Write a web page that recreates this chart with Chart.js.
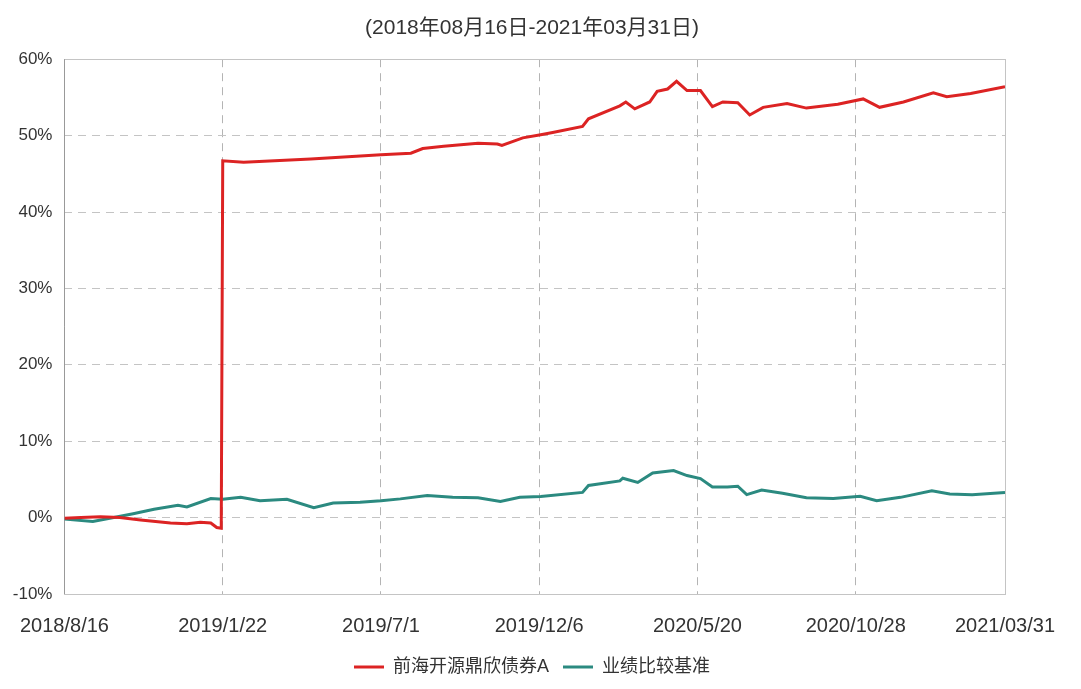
<!DOCTYPE html>
<html>
<head>
<meta charset="utf-8">
<script src="https://cdn.jsdelivr.net/npm/chart.js@4.4.1/dist/chart.umd.min.js"></script>
<style>
  html, body { margin: 0; padding: 0; background: #fff; }
  #wrap { width: 1081px; height: 689px; position: relative; }
</style>
</head>
<body>
<div id="wrap"><canvas id="c" width="1081" height="689"></canvas></div>
<script>
// ---- data (x = trading-day index, y = cumulative return %) ----
const titleText = "(2018年08月16日-2021年03月31日)";
const seriesNames = ["前海开源鼎欣债券A", "业绩比较基准"];

const xTickIdx = [0, 106, 212, 318, 424, 530, 630];
const xTickLabels = ["2018/8/16", "2019/1/22", "2019/7/1", "2019/12/6", "2020/5/20", "2020/10/28", "2021/03/31"];

const fundIdx = [0, 11, 24, 37, 51, 71, 82, 91, 98, 102, 105, 106, 120, 165, 212, 232, 240, 254, 277, 290, 293, 307, 319, 327, 347, 351, 372, 376, 382, 392, 397, 404, 410, 417, 426, 434, 441, 451, 459, 468, 484, 497, 518, 535, 546, 562, 582, 591, 607, 630];
const fundVal = [-0.1, 0.0, 0.1, 0.0, -0.3, -0.7, -0.8, -0.6, -0.7, -1.3, -1.4, 46.7, 46.5, 46.95, 47.5, 47.7, 48.3, 48.6, 49.0, 48.9, 48.7, 49.7, 50.1, 50.4, 51.2, 52.2, 53.9, 54.4, 53.5, 54.4, 55.8, 56.1, 57.1, 55.9, 55.9, 53.8, 54.4, 54.3, 52.7, 53.7, 54.2, 53.6, 54.1, 54.8, 53.7, 54.4, 55.6, 55.1, 55.5, 56.4];

const benchIdx = [0, 19, 33, 46, 60, 76, 82, 98, 106, 118, 131, 149, 167, 180, 198, 212, 225, 243, 260, 277, 292, 305, 319, 347, 351, 372, 374, 384, 394, 408, 417, 426, 434, 444, 451, 457, 467, 481, 497, 515, 533, 544, 560, 581, 593, 608, 630];
const benchVal = [-0.2, -0.5, 0.0, 0.5, 1.1, 1.6, 1.4, 2.5, 2.4, 2.65, 2.2, 2.4, 1.3, 1.9, 2.0, 2.2, 2.45, 2.9, 2.65, 2.6, 2.1, 2.65, 2.75, 3.3, 4.2, 4.8, 5.15, 4.6, 5.85, 6.15, 5.5, 5.1, 4.0, 4.0, 4.1, 3.0, 3.6, 3.2, 2.6, 2.5, 2.8, 2.2, 2.65, 3.5, 3.1, 3.0, 3.3];

const yMin = -10, yMax = 60, yStep = 10;

// ---- chart ----
const FONT = "'Liberation Sans', 'Noto Sans CJK SC', Arial, sans-serif";
const toPts = (xs, ys) => xs.map((x, i) => ({ x: x, y: ys[i] }));

const boxPlugin = {
  id: 'plotBox',
  beforeDatasetsDraw(chart) {
    const a = chart.chartArea, c = chart.ctx;
    c.save();
    c.lineWidth = 1;
    c.strokeStyle = '#c4c4c4';
    c.strokeRect(Math.round(a.left) + 0.5, Math.round(a.top) + 0.5, Math.round(a.right - a.left), Math.round(a.bottom - a.top));
    c.strokeStyle = '#999';
    c.beginPath();
    c.moveTo(Math.round(a.left) + 0.5, a.top);
    c.lineTo(Math.round(a.left) + 0.5, a.bottom);
    c.stroke();
    c.restore();
  }
};

new Chart(document.getElementById('c'), {
  type: 'line',
  data: {
    datasets: [
      { label: seriesNames[0], data: toPts(fundIdx, fundVal), borderColor: '#dc2323', backgroundColor: '#dc2323', borderWidth: 3, pointRadius: 0, tension: 0, yAxisID: 'y' },
      { label: seriesNames[1], data: toPts(benchIdx, benchVal), borderColor: '#2b8a80', backgroundColor: '#2b8a80', borderWidth: 3, pointRadius: 0, tension: 0, yAxisID: 'y' }
    ]
  },
  options: {
    responsive: false,
    animation: false,
    layout: { padding: { left: 0, right: 17, top: 0, bottom: 3 } },
    plugins: {
      title: {
        display: true, text: titleText, color: '#333',
        font: { family: FONT, size: 21, weight: 'normal' },
        padding: { top: 16, bottom: 18 }
      },
      legend: {
        display: true, position: 'bottom',
        labels: {
          usePointStyle: true, pointStyle: 'line', pointStyleWidth: 30,
          color: '#333', padding: 14,
          font: { family: FONT, size: 18 }
        }
      },
      tooltip: { enabled: false }
    },
    scales: {
      x: {
        type: 'linear', min: xTickIdx[0], max: xTickIdx[xTickIdx.length - 1],
        afterBuildTicks: (s) => { s.ticks = xTickIdx.map(v => ({ value: v })); },
        afterFit: (s) => { s.height = 50; },
        ticks: {
          autoSkip: false, maxRotation: 0, padding: 20, color: '#333',
          font: { family: FONT, size: 20 },
          callback: (v) => { const i = xTickIdx.indexOf(v); return i >= 0 ? xTickLabels[i] : ''; }
        },
        grid: {
          drawTicks: false,
          color: (ctx) => (ctx.tick && (ctx.tick.value === xTickIdx[0] || ctx.tick.value === xTickIdx[xTickIdx.length - 1])) ? 'rgba(0,0,0,0)' : '#b4b4b4'
        },
        border: { display: false, dash: [8, 6] }
      },
      y: {
        min: yMin, max: yMax,
        afterFit: (s) => { s.width = 64; },
        ticks: {
          stepSize: yStep, padding: 12, color: '#333',
          font: { family: FONT, size: 17 },
          callback: (v) => v + '%'
        },
        grid: {
          drawTicks: false,
          color: (ctx) => (ctx.tick && (ctx.tick.value === yMin || ctx.tick.value === yMax)) ? 'rgba(0,0,0,0)' : '#c4c4c4'
        },
        border: { display: false, dash: [8, 6] }
      },
      yRight: {
        position: 'right', min: yMin, max: yMax,
        afterFit: (s) => { s.width = 59; },
        ticks: { display: false },
        grid: { display: false, drawTicks: false },
        border: { display: false }
      }
    }
  },
  plugins: [boxPlugin]
});
</script>
</body>
</html>
